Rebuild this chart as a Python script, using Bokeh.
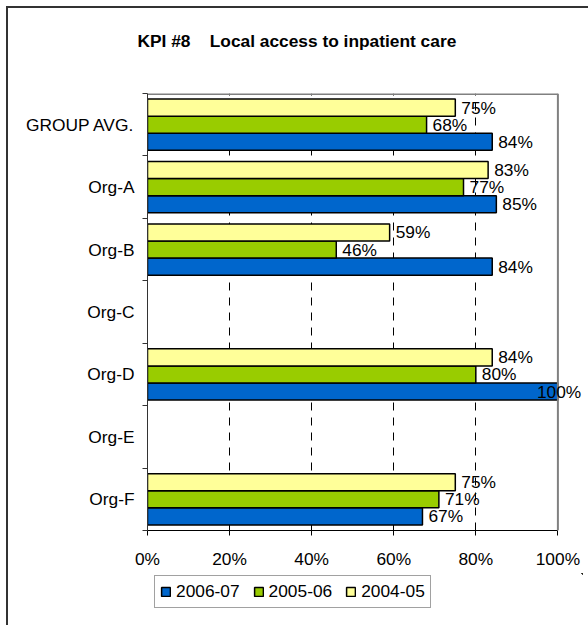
from bokeh.plotting import figure
from bokeh.layouts import column
from bokeh.models import (ColumnDataSource, Range1d, FixedTicker, Span,
                          LabelSet, Legend, LegendItem)
from bokeh.core.properties import value
from bokeh.embed import file_html
from bokeh.resources import INLINE

# ---------------- data ----------------
title_text = "KPI #8\u00a0\u00a0\u00a0 Local access to inpatient care"
categories = ["GROUP AVG.", "Org-A", "Org-B", "Org-C", "Org-D", "Org-E", "Org-F"]
series_names = ["2006-07", "2005-06", "2004-05"]
values_2006_07 = [84, 85, 84, None, 100, None, 67]
values_2005_06 = [68, 77, 46, None, 80, None, 71]
values_2004_05 = [75, 83, 59, None, 84, None, 75]
series_colors = ["#0066CC", "#99CC00", "#FFFF99"]
x_ticks = [0, 20, 40, 60, 80, 100]
x_tick_labels = ["0%", "20%", "40%", "60%", "80%", "100%"]
grid_ticks = [20, 40, 60, 80]

FONT = "Liberation Sans"
FS = "13pt"
BAR_H = 0.274
series_offsets = [-BAR_H, 0.0, BAR_H]

n = len(categories)
x_max = x_ticks[-1]
# category i (top to bottom) occupies band [n-i-1, n-i] on the y scale
centres = [n - i - 0.5 for i in range(n)]

# ---------------- title strip ----------------
tf = figure(width=580, height=70, title=title_text, output_backend="svg", toolbar_location=None,
            x_axis_location=None, y_axis_location=None,
            min_border_left=0, min_border_right=0, min_border_top=0, min_border_bottom=0,
            x_range=Range1d(0, 1), y_range=Range1d(0, 1))
tf.outline_line_color = None
tf.grid.visible = False
tf.background_fill_color = "white"
tf.border_fill_color = "white"
tf.title.text_font = FONT
tf.title.text_font_size = FS
tf.title.text_font_style = "bold"
tf.title.text_color = "black"
tf.title.align = "left"
tf.title.offset = -10
tf.title.standoff = 40

# ---------------- main chart ----------------
# frame extends a little past 100% so the "100%" label is not clipped
p = figure(width=580, height=495, title=None,
           y_range=Range1d(0, n),
           x_range=Range1d(0, x_max * 435 / 410.4),
           output_backend="svg", toolbar_location=None,
           min_border_left=139, min_border_right=6,
           min_border_top=15, min_border_bottom=43)
p.background_fill_color = "white"
p.border_fill_color = "white"
p.outline_line_color = None

# gray plot-area border (top and right)
p.add_layout(Span(location=x_max, dimension="height", line_color="#808080", line_width=2))
p.segment(x0=[0], y0=[n], x1=[x_max], y1=[n], line_color="#808080", line_width=3)

sources = []
for name, vals, color, off in zip(series_names,
                                  [values_2006_07, values_2005_06, values_2004_05],
                                  series_colors, series_offsets):
    rows = [(ctr, v) for ctr, v in zip(centres, vals) if v is not None]
    src = ColumnDataSource(dict(
        y=[ctr + off for ctr, _ in rows],
        val=[v for _, v in rows],
        label=[f"{v}%" for _, v in rows],
        xoff=[6 if v < x_max else -21 for _, v in rows],
    ))
    sources.append(src)
    p.hbar(y="y", left=0, right="val", height=BAR_H,
           fill_color=color, line_color="black", line_width=1.5, source=src)
    labels = LabelSet(x="val", y="y", text="label",
                      x_offset="xoff", source=src, text_baseline="middle", text_align="left",
                      text_font=value(FONT), text_font_size=FS, text_color="black")
    p.add_layout(labels)

# y axis: labels at band centres, ticks at band boundaries
ya = p.yaxis[0]
ya.ticker = FixedTicker(ticks=centres, minor_ticks=list(range(n + 1)))
ya.major_label_overrides = {c: lab for c, lab in zip(centres, categories)}
ya.major_tick_out = 0
ya.major_tick_in = 0
ya.minor_tick_out = 5
ya.minor_tick_in = 0
ya.major_label_standoff = 8
ya.axis_line_color = "#333333"
ya.minor_tick_line_color = "#333333"
ya.major_label_text_font = FONT
ya.major_label_text_font_size = FS
ya.major_label_text_color = "black"

# x axis
xa = p.xaxis[0]
xa.bounds = (0, x_max)
xa.ticker = FixedTicker(ticks=x_ticks)
xa.major_label_overrides = dict(zip(x_ticks, x_tick_labels))
xa.major_tick_out = 5
xa.major_tick_in = 0
xa.minor_tick_line_color = None
xa.axis_line_color = "black"
xa.major_tick_line_color = "black"
xa.major_label_standoff = 13
xa.major_label_text_font = FONT
xa.major_label_text_font_size = FS
xa.major_label_text_color = "black"

p.xgrid.ticker = FixedTicker(ticks=grid_ticks)
p.xgrid.grid_line_color = "black"
p.xgrid.grid_line_dash = "8 7"
p.xgrid.grid_line_width = 1
p.ygrid.visible = False

# ---------------- legend strip below the chart ----------------
# the strip's ranges lie away from the data, so its bars stay out of view;
# they only supply the legend swatches
lg = figure(width=580, height=52, output_backend="svg", toolbar_location=None,
            x_axis_location=None, y_axis_location=None,
            min_border_left=0, min_border_right=0, min_border_top=0, min_border_bottom=0,
            x_range=Range1d(-2 * x_max, -x_max), y_range=Range1d(-3 * n, -2 * n))
lg.outline_line_color = None
lg.grid.visible = False
lg.background_fill_color = "white"
lg.border_fill_color = "white"
swatches = []
for color, src in zip(series_colors, sources):
    swatches.append(lg.hbar(y="y", left=0, right="val", height=BAR_H, source=src,
                            fill_color=color, line_color="black", line_width=1.5))
legend = Legend(items=[LegendItem(label=nm, renderers=[r]) for nm, r in zip(series_names, swatches)],
                orientation="horizontal", location=(7, 17),
                glyph_width=11, glyph_height=11, label_standoff=5, spacing=13,
                padding=5, margin=0, label_height=11,
                label_text_font=FONT, label_text_font_size=FS, label_text_color="black",
                border_line_color="#444444", border_line_width=1,
                background_fill_color="white", background_fill_alpha=1.0)
lg.add_layout(legend)

page = column(tf, p, lg, spacing=0,
              styles={"margin-left": "8px", "margin-top": "8px", "outline": "2px solid #333333"})

open("out.html", "w").write(file_html(page, INLINE))
